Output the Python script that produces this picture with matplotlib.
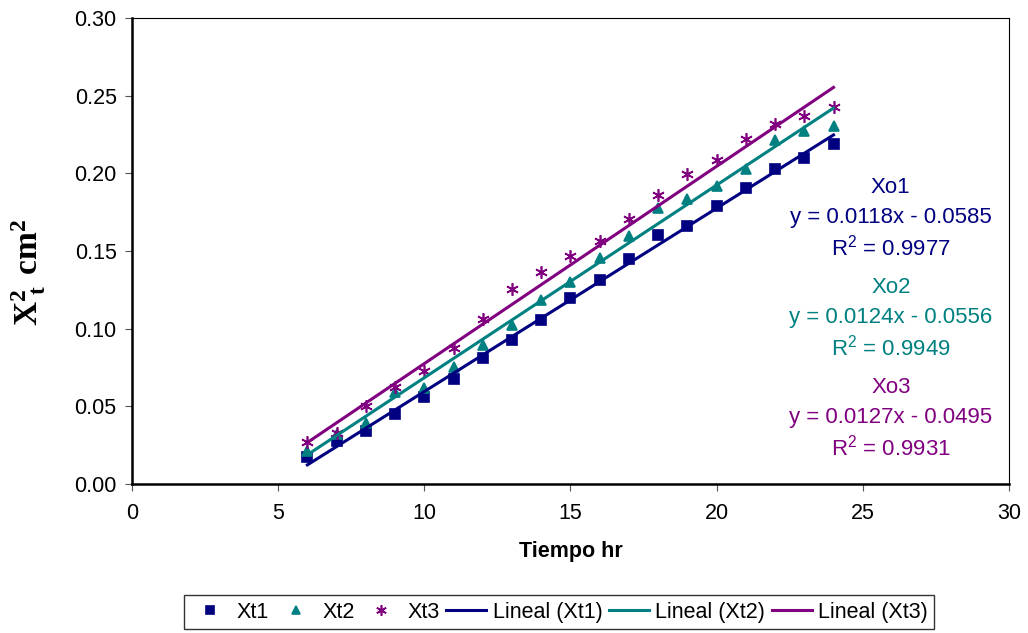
import matplotlib
matplotlib.use('Agg')
import matplotlib.pyplot as plt
import numpy as np

plt.rcParams['font.family'] = ['Liberation Sans', 'DejaVu Sans']
plt.rcParams['mathtext.fontset'] = 'custom'
plt.rcParams['mathtext.rm'] = 'Liberation Sans'
plt.rcParams['mathtext.bf'] = 'Liberation Serif:bold'

# datos
tiempo = np.arange(6, 25)
xt1 = [0.0176, 0.0277, 0.0342, 0.0452, 0.0559, 0.0677, 0.0809, 0.0929, 0.1058, 0.1196,
       0.1316, 0.1450, 0.1600, 0.1660, 0.1790, 0.1907, 0.2030, 0.2099, 0.2189]
xt2 = [0.0215, 0.0320, 0.0390, 0.0595, 0.0617, 0.0753, 0.0892, 0.1021, 0.1183, 0.1300,
       0.1456, 0.1596, 0.1778, 0.1837, 0.1918, 0.2030, 0.2213, 0.2273, 0.2305]
xt3 = [0.0273, 0.0327, 0.0499, 0.0625, 0.0725, 0.0875, 0.1062, 0.1256, 0.1366, 0.1467,
       0.1563, 0.1708, 0.1858, 0.1998, 0.2084, 0.2219, 0.2316, 0.2366, 0.2430]
series = [xt1, xt2, xt3]
nombres = ['Xt1', 'Xt2', 'Xt3']
pendientes = [0.0118, 0.0124, 0.0127]
intercepto = [-0.0585, -0.0556, -0.0495]
r2 = [0.9977, 0.9949, 0.9931]
etiquetas = ['Xo1', 'Xo2', 'Xo3']

colores = ['#000080', '#008080', '#800080']
marcadores = ['s', '^', (6, 2, 0)]

fig = plt.figure(figsize=(10.28, 6.33), dpi=100)
ax = fig.add_axes([0.1284, 0.2354, 0.853, 0.7362])

handles = []
for y, nom, c, m in zip(series, nombres, colores, marcadores):
    h, = ax.plot(tiempo, y, linestyle='none', marker=m, color=c,
                 markersize=6.5 if m != (6, 2, 0) else 9, markeredgewidth=1.2, label=nom)
    handles.append(h)
for i, (p, b, c) in enumerate(zip(pendientes, intercepto, colores)):
    xx = np.array([tiempo[0], tiempo[-1]])
    h, = ax.plot(xx, p * xx + b, color=c, lw=2.2, label='Lineal (%s)' % nombres[i])
    handles.append(h)

# ecuaciones (una linea a la vez)
centro_y = [0.1716, 0.1071, 0.0426]
paso = 0.0194
for i in range(3):
    lineas = [etiquetas[i],
              'y = %.4fx - %.4f' % (pendientes[i], -intercepto[i]),
              'R$^2$ = %.4f' % r2[i]]
    for j, t in enumerate(lineas):
        ax.text(25.96, centro_y[i] + (1 - j) * paso, t, color=colores[i],
                ha='center', va='center', fontsize=16)

ax.set_xlim(0, 30)
ax.set_ylim(0, 0.30)
ax.set_xticks(np.arange(0, 31, 5))
ax.set_yticks(np.arange(0, 0.31, 0.05))
ax.set_yticklabels(['%.2f' % v for v in np.arange(0, 0.31, 0.05)])
ax.tick_params(labelsize=15.5, direction='out', length=5, color='#555555')
ax.tick_params(axis='x', pad=9)
ax.tick_params(axis='y', pad=6)
ax.spines['top'].set_linewidth(0.8)
ax.spines['right'].set_linewidth(0.8)
ax.spines['left'].set_linewidth(1.8)
ax.spines['bottom'].set_linewidth(1.8)

ax.set_xlabel('Tiempo hr', fontsize=15.5, fontweight='bold', labelpad=12)
ax.set_ylabel(r'$\mathbf{X^2_{\ t}\ cm^2}$', fontsize=24)
ax.yaxis.set_label_coords(-0.0955, 0.454)

leg = fig.legend(handles=handles, loc='center', bbox_to_anchor=(0.544, 0.033), ncol=6,
                 frameon=True, fancybox=False, edgecolor='black', fontsize=15.5,
                 handlelength=1.86, handletextpad=0.3, columnspacing=0.3,
                 borderpad=0.3, borderaxespad=0, markerscale=0.85)
leg.get_frame().set_linewidth(1.0)

fig.savefig('out.png', dpi=100)
